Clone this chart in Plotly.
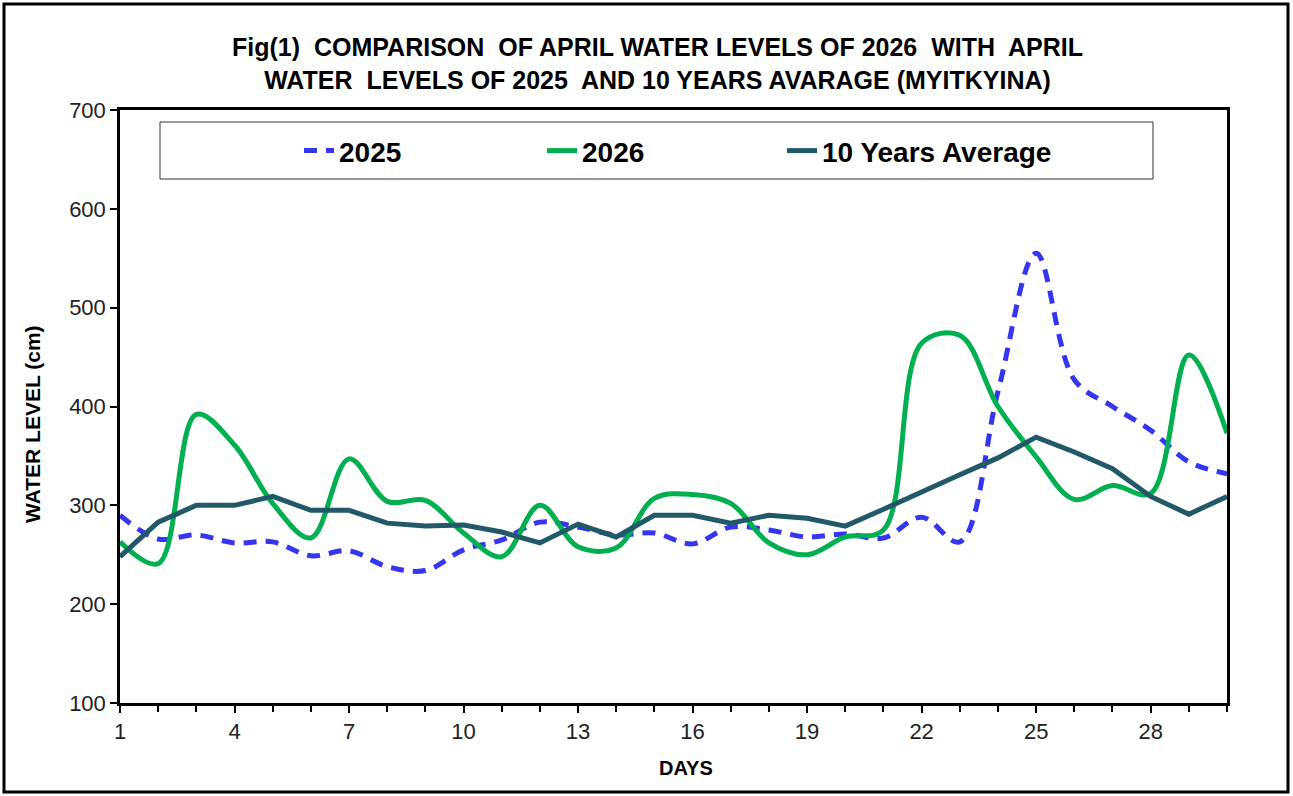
import plotly.graph_objects as go

days = list(range(1, 31))

level_2025 = [290, 266, 270, 262, 263, 249, 254, 238, 234, 255,
              265, 283, 278, 270, 272, 261, 278, 275, 268, 271,
              267, 288, 263, 415, 555, 427, 400, 376, 344, 332]

level_2026 = [263, 241, 392, 361, 302, 267, 347, 304, 305, 272,
              248, 300, 258, 257, 307, 311, 302, 262, 250, 268,
              275, 464, 472, 400, 349, 306, 320, 312, 452, 373]

level_avg = [248, 283, 300, 300, 309, 295, 295, 282, 279, 280,
             273, 262, 281, 268, 290, 290, 282, 290, 287, 279,
             296, 314, 331, 348, 369, 354, 337, 309, 291, 309]

FONT = "Liberation Sans, Arial"

fig = go.Figure()
fig.add_trace(go.Scatter(x=days, y=level_2025, mode='lines', name='2025', legend='legend',
                         line=dict(color='#3535F2', width=5, dash='13px,9px', shape='spline', smoothing=1)))
fig.add_trace(go.Scatter(x=days, y=level_2026, mode='lines', name='2026', legend='legend2',
                         line=dict(color='#00B050', width=5, shape='spline', smoothing=1)))
fig.add_trace(go.Scatter(x=days, y=level_avg, mode='lines', name='10 Years Average', legend='legend3',
                         line=dict(color='#215968', width=5)))

title_text = ("Fig(1)  COMPARISON  OF APRIL WATER LEVELS OF 2026  WITH  APRIL<br>"
              "WATER  LEVELS OF 2025  AND 10 YEARS AVARAGE (MYITKYINA)")

# one legend per series so each entry sits where it does in the original box
leg_font = dict(family=FONT, size=28, color='black', weight='bold')
def legend_at(px):
    return dict(orientation='h', x=(px - 120) / 1107, y=0.931, xanchor='left', yanchor='middle',
                font=leg_font, bgcolor='rgba(0,0,0,0)')

fig.update_layout(
    width=1293, height=796,
    margin=dict(l=120, r=66, t=110, b=93),
    paper_bgcolor='white', plot_bgcolor='white',
    font=dict(family=FONT, color='#222222'),
    showlegend=True,
    legend=legend_at(299),
    legend2=legend_at(542),
    legend3=legend_at(782),
    annotations=[
        dict(text="<b>" + title_text + "</b>", xref='paper', yref='paper',
             x=(657 - 120) / 1107, y=(703 - 63) / 593, xanchor='center', yanchor='middle',
             showarrow=False, font=dict(family=FONT, size=25, color='black')),
        dict(text="<b>WATER LEVEL (cm)</b>", xref='paper', yref='paper', textangle=-90,
             x=(32 - 120) / 1107, y=(703 - 424) / 593, xanchor='center', yanchor='middle',
             showarrow=False, font=dict(family=FONT, size=21, color='black')),
        dict(text="<b>DAYS</b>", xref='paper', yref='paper',
             x=(686 - 120) / 1107, y=(703 - 768) / 593, xanchor='center', yanchor='middle',
             showarrow=False, font=dict(family=FONT, size=20, color='black')),
    ],
    shapes=[
        dict(type='rect', xref='paper', yref='paper',
             x0=(4 - 120) / 1107, x1=(1288 - 120) / 1107,
             y0=(703 - 792) / 593, y1=(703 - 4) / 593,
             line=dict(color='black', width=3)),
        dict(type='rect', xref='paper', yref='paper',
             x0=(160 - 120) / 1107, x1=(1153 - 120) / 1107,
             y0=(703 - 179) / 593, y1=(703 - 122) / 593,
             line=dict(color='#333333', width=1)),
    ],
)

fig.update_xaxes(range=[1, 30], tickmode='linear', tick0=1, dtick=3,
                 ticks='outside', ticklen=7, tickwidth=1.5, tickcolor='black',
                 minor=dict(dtick=1, tick0=1, ticks='outside', ticklen=6, tickcolor='black'),
                 showline=True, linewidth=2.5, linecolor='black', mirror=True,
                 showgrid=False, zeroline=False,
                 tickfont=dict(family=FONT, size=22, color='#222222'))
fig.update_yaxes(range=[100, 700], tickmode='linear', tick0=100, dtick=100,
                 ticks='outside', ticklen=7, tickwidth=2, tickcolor='black',
                 showline=True, linewidth=2.5, linecolor='black', mirror=True,
                 showgrid=False, zeroline=False,
                 tickfont=dict(family=FONT, size=22, color='#222222'))

# page body has a default 8px margin; drop it so the figure sits at the window origin
fig.write_html("out.html", config={'displayModeBar': False},
               post_script="document.body.style.margin='0px';")
